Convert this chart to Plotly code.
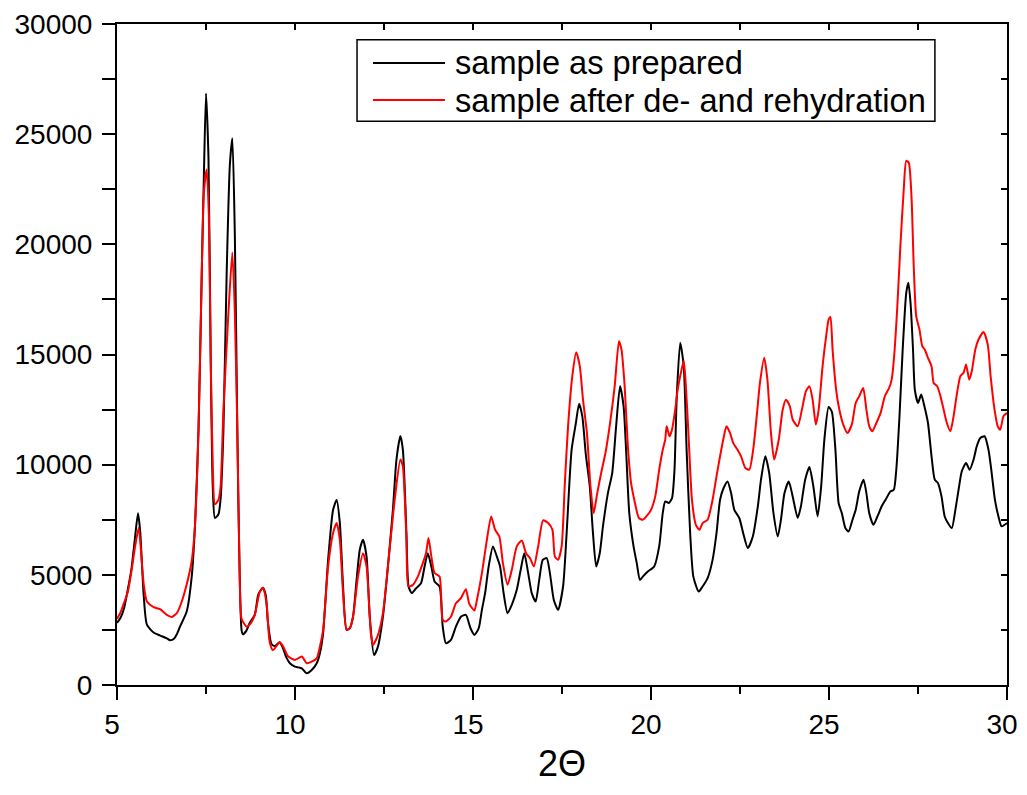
"""XRD pattern: sample as prepared vs. after de- and rehydration"""
import plotly.graph_objects as go

# 2-theta / intensity
prepared_x = [5.00, 5.10, 5.20, 5.30, 5.40, 5.50, 5.59, 5.65, 5.75, 5.84, 6.03, 6.20, 6.40, 6.49,
              6.60, 6.68, 6.77, 6.96, 7.10, 7.19, 7.29, 7.38, 7.44, 7.50, 7.57, 7.63, 7.69, 7.75,
              7.85, 7.91, 7.99, 8.08, 8.17, 8.24, 8.31, 8.38, 8.43, 8.50, 8.54, 8.64, 8.73, 8.87,
              8.96, 9.01, 9.10, 9.18, 9.24, 9.34, 9.43, 9.57, 9.66, 9.76, 9.85, 10.00, 10.10,
              10.19, 10.33, 10.47, 10.61, 10.70, 10.79, 10.93, 11.07, 11.17, 11.26, 11.35, 11.45,
              11.54, 11.63, 11.73, 11.82, 11.91, 12.01, 12.10, 12.22, 12.33, 12.47, 12.61, 12.75,
              12.85, 12.96, 13.03, 13.13, 13.19, 13.28, 13.40, 13.54, 13.64, 13.73, 13.83, 13.92,
              14.06, 14.15, 14.24, 14.38, 14.52, 14.66, 14.80, 14.93, 15.04, 15.16, 15.25, 15.34,
              15.44, 15.56, 15.67, 15.76, 15.86, 15.97, 16.09, 16.23, 16.34, 16.44, 16.55, 16.65,
              16.76, 16.86, 16.96, 17.07, 17.16, 17.27, 17.39, 17.53, 17.63, 17.77, 17.89, 17.98,
              18.07, 18.17, 18.28, 18.37, 18.46, 18.56, 18.65, 18.79, 18.91, 19.02, 19.13, 19.23,
              19.30, 19.39, 19.51, 19.60, 19.69, 19.77, 19.91, 20.09, 20.23, 20.33, 20.40, 20.50,
              20.59, 20.66, 20.72, 20.82, 20.92, 21.00, 21.10, 21.19, 21.34, 21.45, 21.59, 21.73,
              21.84, 21.94, 22.04, 22.15, 22.25, 22.34, 22.48, 22.59, 22.72, 22.86, 23.00, 23.09,
              23.21, 23.32, 23.44, 23.56, 23.65, 23.75, 23.87, 23.98, 24.12, 24.21, 24.33, 24.45,
              24.56, 24.68, 24.78, 24.87, 24.99, 25.08, 25.18, 25.27, 25.36, 25.46, 25.55, 25.66,
              25.75, 25.85, 25.97, 26.05, 26.13, 26.25, 26.36, 26.48, 26.59, 26.73, 26.82, 26.89,
              26.98, 27.07, 27.17, 27.23, 27.29, 27.36, 27.41, 27.50, 27.59, 27.68, 27.78, 27.88,
              27.97, 28.06, 28.16, 28.25, 28.34, 28.45, 28.55, 28.64, 28.73, 28.85, 28.95, 29.06,
              29.15, 29.25, 29.37, 29.48, 29.57, 29.66, 29.76, 29.85, 30.00]
prepared_y = [2820, 3050, 3500, 4300, 5200, 6600, 7790, 7000, 4060, 2740, 2380, 2250, 2120, 2030,
              2100, 2300, 2650, 3350, 4940, 7200, 11600, 18660, 23060, 26850, 23900, 15100, 9000, 7580,
              7750, 8450, 11600, 18660, 23600, 24820, 20420, 11600, 6340, 2480, 2300, 2480, 2830, 3180,
              4060, 4230, 4410, 4060, 2830, 1860, 1770, 1940, 1680, 1240, 1000, 833, 800,
              758, 530, 680, 985, 1440, 2350, 5680, 7950, 8400, 7350, 4470, 2500,
              2580, 3100, 4770, 6140, 6590, 5830, 3100, 1360, 1740, 3100, 5380, 7950,
              10230, 11300, 10680, 6900, 4470, 4170, 4390, 4620, 5380, 5980, 5380, 4700,
              4470, 2650, 1890, 2045, 2650, 3100, 3180, 2575, 2270, 2575, 3410, 4170,
              5380, 6290, 5830, 5380, 4170, 3260, 3640, 4320, 5230, 5980, 5080, 4170,
              3790, 4770, 5680, 5760, 5080, 3860, 3410, 4470, 6890, 10680, 11890, 12770,
              12200, 10450, 9020, 6890, 5380, 5980, 7200, 8710, 9620, 11740, 13560, 12650,
              10680, 7800, 6290, 5530, 4770, 4920, 5150, 5380, 6290, 7800, 8330, 8260,
              8480, 9770, 12950, 15530, 14470, 10680, 6890, 4920, 4240, 4470, 4850, 5680,
              6890, 8410, 8940, 9240, 8710, 7950, 7580, 6890, 6210, 6740, 8100, 9320,
              10380, 9620, 7800, 6740, 7500, 8710, 9240, 8560, 7580, 8100, 9320, 9890,
              9020, 7650, 9020, 11140, 12620, 12400, 10680, 8260, 7800, 7120, 6970, 7500,
              7950, 8790, 9320, 8710, 7800, 7270, 7650, 8110, 8410, 8790, 8860, 9770,
              12200, 15230, 17800, 18260, 17350, 15230, 13410, 12800, 13180, 12650, 11890, 10380,
              9320, 9170, 8560, 7650, 7350, 7120, 7950, 8860, 9700, 10080, 9770, 10230,
              10830, 11210, 11290, 10680, 9620, 8410, 7650, 7200, 7350]

rehydrated_x = [5.00, 5.10, 5.19, 5.30, 5.40, 5.50, 5.61, 5.70, 5.75, 5.84, 6.03, 6.21, 6.40, 6.54,
                6.68, 6.82, 6.96, 7.10, 7.19, 7.29, 7.38, 7.44, 7.52, 7.58, 7.63, 7.69, 7.75, 7.85,
                7.91, 7.99, 8.13, 8.24, 8.31, 8.38, 8.45, 8.50, 8.64, 8.73, 8.87, 9.01, 9.10, 9.20,
                9.29, 9.38, 9.57, 9.66, 9.81, 10.00, 10.19, 10.33, 10.47, 10.61, 10.70, 10.79,
                10.93, 11.07, 11.17, 11.26, 11.35, 11.45, 11.54, 11.63, 11.77, 11.91, 12.01, 12.13,
                12.19, 12.33, 12.47, 12.61, 12.80, 12.96, 13.03, 13.13, 13.19, 13.31, 13.45, 13.59,
                13.68, 13.75, 13.83, 13.92, 14.06, 14.15, 14.24, 14.38, 14.52, 14.66, 14.80, 14.89,
                14.97, 15.04, 15.11, 15.25, 15.39, 15.51, 15.62, 15.74, 15.84, 15.97, 16.09, 16.23,
                16.37, 16.49, 16.60, 16.71, 16.83, 16.97, 17.11, 17.23, 17.30, 17.39, 17.49, 17.58,
                17.67, 17.79, 17.90, 18.00, 18.09, 18.20, 18.30, 18.39, 18.49, 18.60, 18.72, 18.85,
                18.98, 19.10, 19.17, 19.26, 19.35, 19.44, 19.53, 19.66, 19.77, 19.91, 20.00, 20.12,
                20.23, 20.33, 20.40, 20.44, 20.52, 20.59, 20.68, 20.75, 20.84, 20.92, 20.98, 21.06,
                21.15, 21.26, 21.36, 21.45, 21.59, 21.73, 21.84, 21.94, 22.03, 22.12, 22.22, 22.31,
                22.43, 22.53, 22.65, 22.76, 22.87, 22.97, 23.06, 23.18, 23.27, 23.37, 23.46, 23.59,
                23.70, 23.79, 23.90, 23.98, 24.12, 24.24, 24.35, 24.45, 24.54, 24.63, 24.71, 24.82,
                24.92, 24.99, 25.04, 25.10, 25.20, 25.29, 25.40, 25.52, 25.64, 25.75, 25.85, 25.96,
                26.05, 26.13, 26.22, 26.33, 26.45, 26.57, 26.69, 26.76, 26.83, 26.92, 27.01, 27.10,
                27.17, 27.24, 27.32, 27.38, 27.45, 27.54, 27.62, 27.69, 27.78, 27.88, 27.94, 28.04,
                28.13, 28.22, 28.31, 28.41, 28.50, 28.59, 28.69, 28.78, 28.85, 28.94, 29.01, 29.11,
                29.20, 29.34, 29.46, 29.54, 29.65, 29.74, 29.81, 29.90, 30.00]
rehydrated_y = [3000, 3300, 3700, 4200, 5100, 6200, 7140, 5500, 4580, 3790, 3530, 3440, 3180, 3090,
                3260, 3790, 4580, 5640, 7220, 11600, 18660, 22360, 23400, 21300, 15100, 9900, 8200, 8400,
                9000, 12500, 16900, 19630, 16900, 11600, 4580, 3000, 2650, 2740, 3180, 4230, 4410, 3700,
                1940, 1580, 1940, 1770, 1290, 1140, 1290, 985, 1060, 1210, 1740, 2500,
                5380, 6900, 7350, 6590, 4170, 2500, 2580, 3100, 4920, 5980, 5380, 2350,
                1820, 2270, 3260, 5380, 8400, 10230, 9920, 6590, 4470, 4545, 4920, 5530,
                5980, 6670, 5830, 5080, 4920, 2950, 2880, 3100, 3710, 3940, 4350, 3710,
                3500, 3380, 3860, 5080, 6590, 7650, 7050, 6740, 5530, 4550, 5230, 6290,
                6560, 5980, 5760, 5380, 6290, 7470, 7350, 7050, 5830, 5680, 6290, 9170,
                11740, 14020, 15100, 14470, 12950, 11440, 9020, 7800, 8710, 9620, 10530, 11890,
                13560, 15600, 15230, 13560, 10830, 9170, 8410, 7580, 7500, 7730, 7950, 8560,
                9770, 10680, 11140, 11740, 11290, 11590, 12500, 13410, 14170, 14700, 13560, 11140,
                8410, 7270, 7050, 7350, 7500, 8410, 9470, 10380, 11140, 11740, 11440, 10980,
                10680, 10380, 9850, 9770, 10680, 12200, 13710, 14850, 13860, 11440, 10230, 11140,
                12500, 12950, 12650, 12050, 11740, 12500, 13330, 13560, 12950, 11820, 12500, 14470,
                15830, 16590, 16700, 15230, 13410, 12500, 11820, 11440, 11820, 12800, 13110, 13480,
                12500, 11740, 11520, 11890, 12350, 13110, 13480, 13860, 14920, 17200, 20080, 22500,
                23790, 23710, 22050, 19020, 16740, 16140, 15380, 15230, 14850, 14470, 13710, 13560,
                13110, 12500, 11890, 11520, 12200, 13180, 14020, 14170, 14550, 13860, 14240, 15230,
                15680, 16020, 15450, 14020, 12500, 11740, 11590, 12200, 12350]

series_names = ["sample as prepared", "sample after de- and rehydration"]
series_colors = ["#000000", "#ff0000"]

FONT = "Liberation Sans, Arial, sans-serif"

fig = go.Figure()
fig.add_trace(go.Scatter(x=prepared_x, y=prepared_y, mode="lines", name=series_names[0],
                         line=dict(color=series_colors[0], width=2, shape="spline", smoothing=0.6)))
fig.add_trace(go.Scatter(x=rehydrated_x, y=rehydrated_y, mode="lines", name=series_names[1],
                         line=dict(color=series_colors[1], width=2, shape="spline", smoothing=0.6)))
# empty trace so the mirrored top/right axes get drawn with inward ticks
fig.add_trace(go.Scatter(x=[], y=[], xaxis="x2", yaxis="y2", showlegend=False, hoverinfo="skip"))

axis_common = dict(showline=True, linecolor="black", linewidth=2, showgrid=False,
                   zeroline=False, tickcolor="black", tickwidth=2, automargin=False)

# the page body adds an 8px margin, so the figure is sized to fit inside the window
fig.update_layout(
    width=1011, height=779,
    margin=dict(l=109, r=12, t=16, b=102),
    plot_bgcolor="white", paper_bgcolor="white",
    showlegend=False,
    font=dict(family=FONT, color="black"),
    xaxis=dict(range=[5, 30], dtick=5, ticks="outside", ticklen=13, ticklabeloverflow="allow",
               ticklabelshift=-5, tickfont=dict(size=28, family=FONT),
               minor=dict(dtick=2.5, ticks="outside", ticklen=7, tickwidth=2, tickcolor="black"),
               **axis_common),
    yaxis=dict(range=[0, 30000], dtick=5000, ticks="outside", ticklen=13, tickformat="d",
               ticklabelstandoff=4, ticklabeloverflow="allow", tickfont=dict(size=28, family=FONT),
               minor=dict(dtick=2500, ticks="outside", ticklen=13, tickwidth=2, tickcolor="black"),
               **axis_common),
    xaxis2=dict(range=[5, 30], overlaying="x", side="top", dtick=2.5, ticks="inside",
                ticklen=6, showticklabels=False, **axis_common),
    yaxis2=dict(range=[0, 30000], overlaying="y", side="right", dtick=2500, ticks="inside",
                ticklen=6, showticklabels=False, **axis_common),
)

# axis title
fig.add_annotation(text="2\u0398", xref="paper", yref="paper", x=0.5, y=-0.119,
                   showarrow=False, font=dict(size=36, family=FONT), yanchor="middle")

# hand-made legend box to match the long line samples of the original
fig.add_shape(type="rect", xref="paper", yref="paper", x0=0.2697, x1=0.919, y0=0.853, y1=0.976,
              line=dict(color="black", width=1.5), fillcolor="white", layer="above")
for name, color, ly in zip(series_names, series_colors, [0.941, 0.885]):
    fig.add_shape(type="line", xref="paper", yref="paper", x0=0.2876, x1=0.3685, y0=ly, y1=ly,
                  line=dict(color=color, width=2), layer="above")
    fig.add_annotation(text=name, xref="paper", yref="paper", x=0.3774, y=ly, xanchor="left",
                       yanchor="middle", showarrow=False, font=dict(size=32.6, family=FONT))

fig.write_html("out.html")
